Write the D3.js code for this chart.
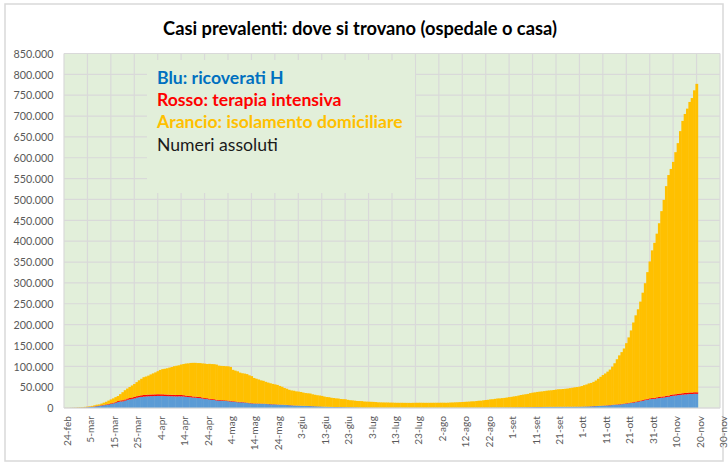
<!DOCTYPE html>
<html><head><meta charset="utf-8">
<script src="https://cdn.jsdelivr.net/npm/d3@7/dist/d3.min.js"></script>
<style>body{margin:0;background:#fff}svg{display:block}</style>
</head><body>
<svg id="c" width="728" height="463"></svg>
<script>
// ---- DATA (daily, 24-feb .. 20-nov) ----
const titleText = "Casi prevalenti: dove si trovano (ospedale o casa)";
const legendLines = ["Blu: ricoverati H", "Rosso: terapia intensiva", "Arancio: isolamento domiciliare", "Numeri assoluti"];
const xTickLabels = ["24-feb","5-mar","15-mar","25-mar","4-apr","14-apr","24-apr","4-mag","14-mag","24-mag","3-giu","13-giu","23-giu","3-lug","13-lug","23-lug","2-ago","12-ago","22-ago","1-set","11-set","21-set","1-ott","11-ott","21-ott","31-ott","10-nov","20-nov","30-nov"];
const xTickDays = [0,10,20,30,40,50,60,70,80,90,100,110,120,130,140,150,160,170,180,190,200,210,220,230,240,250,260,270,280];
const yTickValues = [0,50000,100000,150000,200000,250000,300000,350000,400000,450000,500000,550000,600000,650000,700000,750000,800000,850000];

const ricoverati = [
101,114,128,248,345,401,
639,742,1034,1346,1790,2394,2651,3557,4316,5038,5838,6650,7426,8372,9663,11025,12894,14363,15757,16020,17708,19846,20692,21937,23112,24753,26029,26676,27386,27795,28192,
28403,28540,28741,29010,28949,28976,28718,28485,28399,28242,28144,27847,28023,28011,27643,26893,26484,25786,25033,24906,24134,23805,22871,21533,21372,20353,19723,19210,18149,17569,
17357,17242,16823,16270,15769,15174,14636,13834,13618,13539,12865,12172,11453,10792,10400,10311,10207,10100,9991,9624,9269,8957,8695,8613,8185,7917,7729,7379,7094,6680,6387,
5916,5742,5502,5301,5002,4864,4729,4581,4320,4131,3893,3747,3301,3024,2895,2655,2474,2314,2199,2190,2133,1974,1899,1810,1746,1632,1534,1500,1269,1133,
1090,1010,993,1002,943,879,853,827,816,785,779,766,788,741,762,749,713,716,732,733,735,749,737,749,760,768,784,810,818,827,832,
779,792,738,726,749,774,786,797,801,793,813,843,856,871,879,911,928,952,977,994,1021,1058,1091,1126,1158,1179,1200,1233,1264,1279,1331,
1380,1412,1478,1518,1574,1680,1713,1760,1836,1951,2042,2122,2176,2222,2290,2380,2476,2550,2604,2658,2707,2750,2812,2846,2880,2928,2957,2995,3047,3097,
3140,3287,3487,3625,3782,4086,4336,4519,4821,5076,5470,5796,6178,6487,7131,7676,8048,8454,9057,9694,10549,11287,12006,12997,13955,14981,16301,17390,18902,19840,21114,
21937,22116,23256,24005,24796,25109,26440,26985,28633,29444,29873,30914,31398,32047,32536,33074,33610,33574,34063,33963
];
const terapiaIntensiva = [
26,35,36,56,64,105,
140,166,229,295,351,462,567,650,733,877,1028,1153,1328,1518,1672,1851,2060,2257,2498,2655,2857,3009,3204,3396,3489,3612,3732,3856,3906,3981,4023,
4035,4053,4068,3994,3977,3898,3792,3693,3605,3497,3381,3343,3260,3186,3079,2936,2812,2733,2635,2573,2471,2384,2267,2173,2102,2009,1956,1863,1795,1694,
1578,1539,1501,1479,1427,1333,1311,1168,1034,1027,999,952,893,855,808,775,762,749,716,676,640,595,572,553,541,521,505,489,475,450,435,
424,408,353,338,293,287,283,263,249,236,236,227,220,209,207,178,168,163,161,152,148,127,115,107,104,103,94,89,87,82,
72,77,79,74,71,69,67,65,65,62,62,62,61,57,49,48,49,48,49,49,46,45,45,41,42,44,40,41,41,40,41,
41,42,41,42,45,46,49,49,48,49,55,56,58,56,55,58,58,60,61,66,69,69,64,65,66,69,74,79,86,94,100,
107,109,120,133,142,143,150,164,174,182,187,201,201,207,215,222,220,239,244,236,244,239,247,254,260,264,271,280,291,297,
303,319,323,337,358,390,420,452,462,514,539,586,638,705,750,797,870,926,992,1049,1128,1208,1284,1411,1536,1651,1746,1843,1939,2022,2115,
2225,2292,2391,2515,2634,2749,2849,2896,2971,3081,3170,3230,3306,3422,3492,3612,3670,3712,3748,3758
];
const isolamento = [
94,162,221,284,412,543,
798,927,1000,1065,1155,1060,1843,2180,2936,2599,3724,5036,6201,7860,9268,10197,11108,12090,14935,19185,22116,23783,26522,28697,30920,33648,36653,39533,42588,43752,45420,
48134,50456,52579,55270,58320,60313,61557,63084,64873,66534,68744,70065,71063,73094,74696,76778,77666,79502,80589,80758,81104,81510,81708,82722,81981,83504,83652,84018,84131,82286,
82008,81923,81855,82231,81271,75021,73677,72959,70190,68758,68624,68142,66111,64793,60862,59101,57382,55404,54422,52452,51051,49770,48485,47428,46574,44504,42732,40118,38606,36561,35253,
35027,33743,33442,32790,31681,30726,30250,29886,28303,27343,26508,25935,25476,24252,23172,23076,21927,21448,20741,20386,19262,19111,18958,17656,16805,16568,16010,15247,15325,15281,
14401,14168,13988,13808,13607,13294,12675,12536,12422,12332,12316,12091,12041,11783,11682,11607,11694,11604,11520,11466,11421,11610,11700,11775,11779,11644,11580,11517,11563,11615,11627,
11745,11747,11837,11881,11688,11887,12323,12417,12746,12949,13213,13507,13819,14162,14426,14989,15028,15666,16367,16443,17348,18068,18559,19562,19835,20684,21587,21723,22331,22832,23665,
24591,25233,26219,26828,28120,29371,30215,31069,31779,33575,34538,35180,36132,36758,37207,37930,38717,39270,39609,40267,41147,41919,42020,42448,42974,43588,44490,45318,46280,46929,
47820,49041,50981,52464,54763,55658,57820,60981,64820,69239,73066,76382,80377,84982,91385,98839,108017,116857,123954,131996,143765,156807,172712,190610,206750,220052,237043,257224,278350,303924,328157,
353838,371592,392353,416480,444570,471142,502711,528719,541596,557575,580357,600956,629196,652931,668972,681114,696520,705914,723889,739479
];
const seriesKeys = ["ricoverati","terapia","isolamento"];
const seriesColors = {ricoverati:"#5B9BD5", terapia:"#FF0000", isolamento:"#FFC000"};
const legendColors = ["#0070C0","#FF0000","#FFC000","#1a1a1a"];

// ---- LAYOUT ----
const svg = d3.select("#c");
const W = 728, H = 463;
const pL = 64, pR = 720, pT = 53.5, pB = 408;
const FONT = "Lato, 'Open Sans', sans-serif";

function fit(sel, target){
  const len = sel.node().getComputedTextLength();
  const fs = parseFloat(sel.attr("font-size"));
  sel.attr("font-size", (fs*target/len).toFixed(2));
  return fs*target/len;
}

svg.append("rect").attr("x",0).attr("y",0).attr("width",W).attr("height",H).attr("fill","#fff");
svg.append("rect").attr("x",5).attr("y",4).attr("width",718).attr("height",457)
  .attr("fill","#fff").attr("stroke","#D9D9D9").attr("stroke-width",1.5);

const x = d3.scaleLinear().domain([0,280]).range([pL,pR]);
const y = d3.scaleLinear().domain([0,850000]).range([pB,pT]);

// plot background
svg.append("rect").attr("x",pL).attr("y",pT).attr("width",pR-pL).attr("height",pB-pT).attr("fill","#E2EFDA");

// gridlines
const grid = svg.append("g").attr("stroke","#D9D9D9").attr("stroke-width",1.2);
grid.selectAll("line.h").data(yTickValues).join("line").attr("class","h")
  .attr("x1",pL).attr("x2",pR).attr("y1",d=>y(d)).attr("y2",d=>y(d));
grid.selectAll("line.v").data(xTickDays).join("line").attr("class","v")
  .attr("y1",pT).attr("y2",pB).attr("x1",d=>x(d)).attr("x2",d=>x(d));

// legend box (covers gridlines)
svg.append("rect").attr("x",147).attr("y",60).attr("width",268).attr("height",133).attr("fill","#E2EFDA");

// stacked bars
const table = ricoverati.map((v,i)=>({day:i, ricoverati:v, terapia:terapiaIntensiva[i], isolamento:isolamento[i]}));
const stacked = d3.stack().keys(seriesKeys)(table);
const bw = x(1)-x(0);
svg.append("clipPath").attr("id","pc").append("rect").attr("x",pL).attr("y",pT).attr("width",pR-pL).attr("height",pB-pT);
const bars = svg.append("g").attr("clip-path","url(#pc)");
stacked.forEach(s=>{
  bars.append("g").attr("fill",seriesColors[s.key]).selectAll("rect").data(s).join("rect")
    .attr("x",d=>x(d.data.day)-bw/2).attr("width",bw+0.45)
    .attr("y",d=>y(d[1])).attr("height",d=>Math.max(0,y(d[0])-y(d[1])));
});

// axis baseline
svg.append("line").attr("x1",pL).attr("x2",pR).attr("y1",pB).attr("y2",pB).attr("stroke","#D9D9D9").attr("stroke-width",1);

// y axis labels
const fmt = d3.formatLocale({decimal:",", thousands:".", grouping:[3], currency:["","€"]}).format(",.0f");
const yAxis = svg.append("g").attr("transform",`translate(${53.5},0)`)
  .call(d3.axisLeft(y).tickValues(yTickValues).tickFormat(fmt).tickSize(0).tickPadding(0));
yAxis.select(".domain").remove();
yAxis.selectAll("text").attr("fill","#595959").attr("font-family",FONT).attr("font-size",11).attr("dy","0.35em");
const yfs = fit(yAxis.selectAll("text").filter(d=>d===850000), 40);
yAxis.selectAll("text").attr("font-size",yfs.toFixed(2));

// x axis labels
const xAxis = svg.append("g").attr("transform",`translate(0,${pB})`)
  .call(d3.axisBottom(x).tickValues(xTickDays).tickFormat((d,i)=>xTickLabels[i]).tickSize(0).tickPadding(0));
xAxis.select(".domain").remove();
xAxis.selectAll("text").attr("fill","#595959").attr("font-family",FONT).attr("font-size",11)
  .attr("text-anchor","end").attr("transform","rotate(-90)")
  .attr("x",-8).attr("y",3).attr("dy","0.35em");
const xfs = fit(xAxis.selectAll("text").filter(d=>d===0), 30);
xAxis.selectAll("text").attr("font-size",xfs.toFixed(2));

// title
const t = svg.append("text").attr("x",360).attr("y",35).attr("text-anchor","middle")
  .attr("font-family",FONT).attr("font-weight","bold").attr("font-size",16).attr("fill","#000").text(titleText);
fit(t, 394);

// legend text
const lg = svg.append("g");
const baselines = [83.5,105.8,128,151];
legendLines.forEach((s,i)=>{
  lg.append("text").attr("x",157).attr("y",baselines[i]).attr("font-family",FONT)
    .attr("font-weight", i<3 ? "bold" : "normal").attr("font-size",16).attr("fill",legendColors[i]).text(s);
});
const lfs = fit(lg.selectAll("text").filter((d,i)=>i===2), 246);
lg.selectAll("text").attr("font-size",lfs.toFixed(2));
</script>
</body></html>
